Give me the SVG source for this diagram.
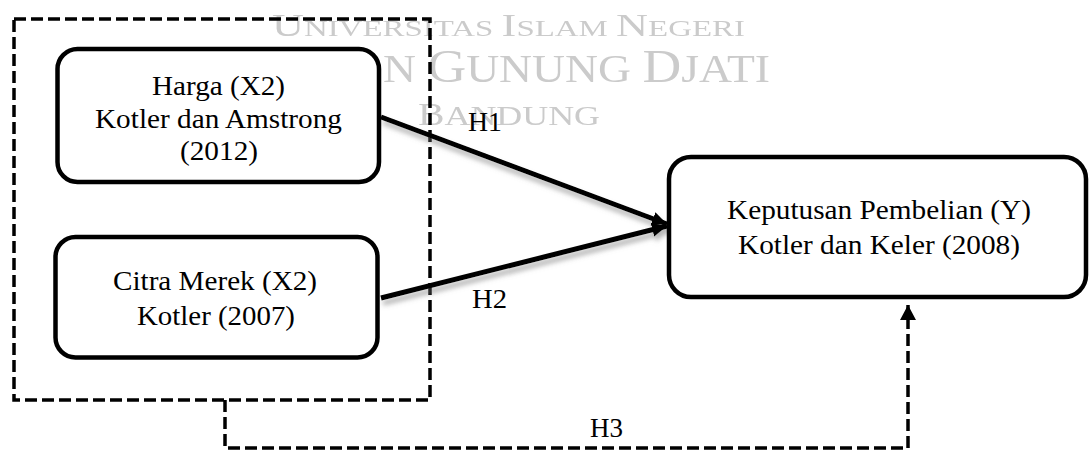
<svg xmlns="http://www.w3.org/2000/svg" width="1090" height="450" viewBox="0 0 1090 450">
<style>
.node{fill:#fff;stroke:#000;stroke-width:4.5}
.lbl{font-family:"Liberation Serif","Times New Roman",serif;font-size:27px;fill:#000}
.wm{font-family:"Liberation Serif","Times New Roman",serif;fill:#cbcbcb}
.solid{fill:none;stroke:#000;stroke-width:5}
.dash{fill:none;stroke:#000;stroke-width:3.5;stroke-dasharray:12 5}
</style>
<defs>
<marker id="ah" markerUnits="userSpaceOnUse" markerWidth="18" markerHeight="16" refX="15" refY="7" orient="auto">
<path d="M0,0 L15,7 L0,14 Z" fill="#000"/>
</marker>
<marker id="ah3" markerUnits="userSpaceOnUse" markerWidth="18" markerHeight="18" refX="15" refY="8" orient="auto">
<path d="M0,0 L15,8 L0,16 Z" fill="#000"/>
</marker>
<filter id="sh" x="-10%" y="-30%" width="120%" height="160%">
<feDropShadow dx="2" dy="5" stdDeviation="2.5" flood-color="#777" flood-opacity="0.55"/>
</filter>
<filter id="blur"><feGaussianBlur stdDeviation="0.6"/></filter>
</defs>
<g id="watermark" class="wm" filter="url(#blur)">
<text x="272" y="36" textLength="473" lengthAdjust="spacingAndGlyphs"><tspan font-size="31">U</tspan><tspan font-size="23">NIVERSITAS </tspan><tspan font-size="31">I</tspan><tspan font-size="23">SLAM </tspan><tspan font-size="31">N</tspan><tspan font-size="23">EGERI</tspan></text>
<text x="383" y="82" textLength="387" lengthAdjust="spacingAndGlyphs"><tspan font-size="40">N </tspan><tspan font-size="47">G</tspan><tspan font-size="40">UNUNG </tspan><tspan font-size="47">D</tspan><tspan font-size="40">JATI</tspan></text>
<text x="418" y="125" textLength="182" lengthAdjust="spacingAndGlyphs"><tspan font-size="31">B</tspan><tspan font-size="28">ANDUNG</tspan></text>
</g>
<g id="group-box">
<rect x="14" y="19" width="416" height="381" class="dash"/>
</g>
<g id="connectors">
<line x1="381" y1="117" x2="667" y2="224" class="solid" marker-end="url(#ah)" filter="url(#sh)"/>
<line x1="381" y1="298" x2="667" y2="226" class="solid" marker-end="url(#ah)" filter="url(#sh)"/>
<polyline points="225,400 225,448 908,448 908,305" class="dash" marker-end="url(#ah3)"/>
<text class="lbl" x="468" y="131" textLength="34" lengthAdjust="spacingAndGlyphs">H1</text>
<text class="lbl" x="472" y="308" textLength="35" lengthAdjust="spacingAndGlyphs">H2</text>
<text class="lbl" x="590" y="437" textLength="33" lengthAdjust="spacingAndGlyphs">H3</text>
</g>
<g id="harga">
<rect x="57.5" y="49" width="321.5" height="133" rx="20" class="node"/>
<text class="lbl" x="152" y="95" textLength="133" lengthAdjust="spacingAndGlyphs">Harga (X2)</text>
<text class="lbl" x="95" y="128" textLength="247" lengthAdjust="spacingAndGlyphs">Kotler dan Amstrong</text>
<text class="lbl" x="180" y="160" textLength="78" lengthAdjust="spacingAndGlyphs">(2012)</text>
</g>
<g id="citra-merek">
<rect x="55.5" y="237" width="322" height="120.5" rx="20" class="node"/>
<text class="lbl" x="113" y="290" textLength="204" lengthAdjust="spacingAndGlyphs">Citra Merek (X2)</text>
<text class="lbl" x="137" y="325" textLength="158" lengthAdjust="spacingAndGlyphs">Kotler (2007)</text>
</g>
<g id="keputusan">
<rect x="669" y="157" width="417" height="140" rx="22" class="node"/>
<text class="lbl" x="727" y="219" textLength="304" lengthAdjust="spacingAndGlyphs">Keputusan Pembelian (Y)</text>
<text class="lbl" x="738" y="254" textLength="282" lengthAdjust="spacingAndGlyphs">Kotler dan Keler (2008)</text>
</g>
</svg>
